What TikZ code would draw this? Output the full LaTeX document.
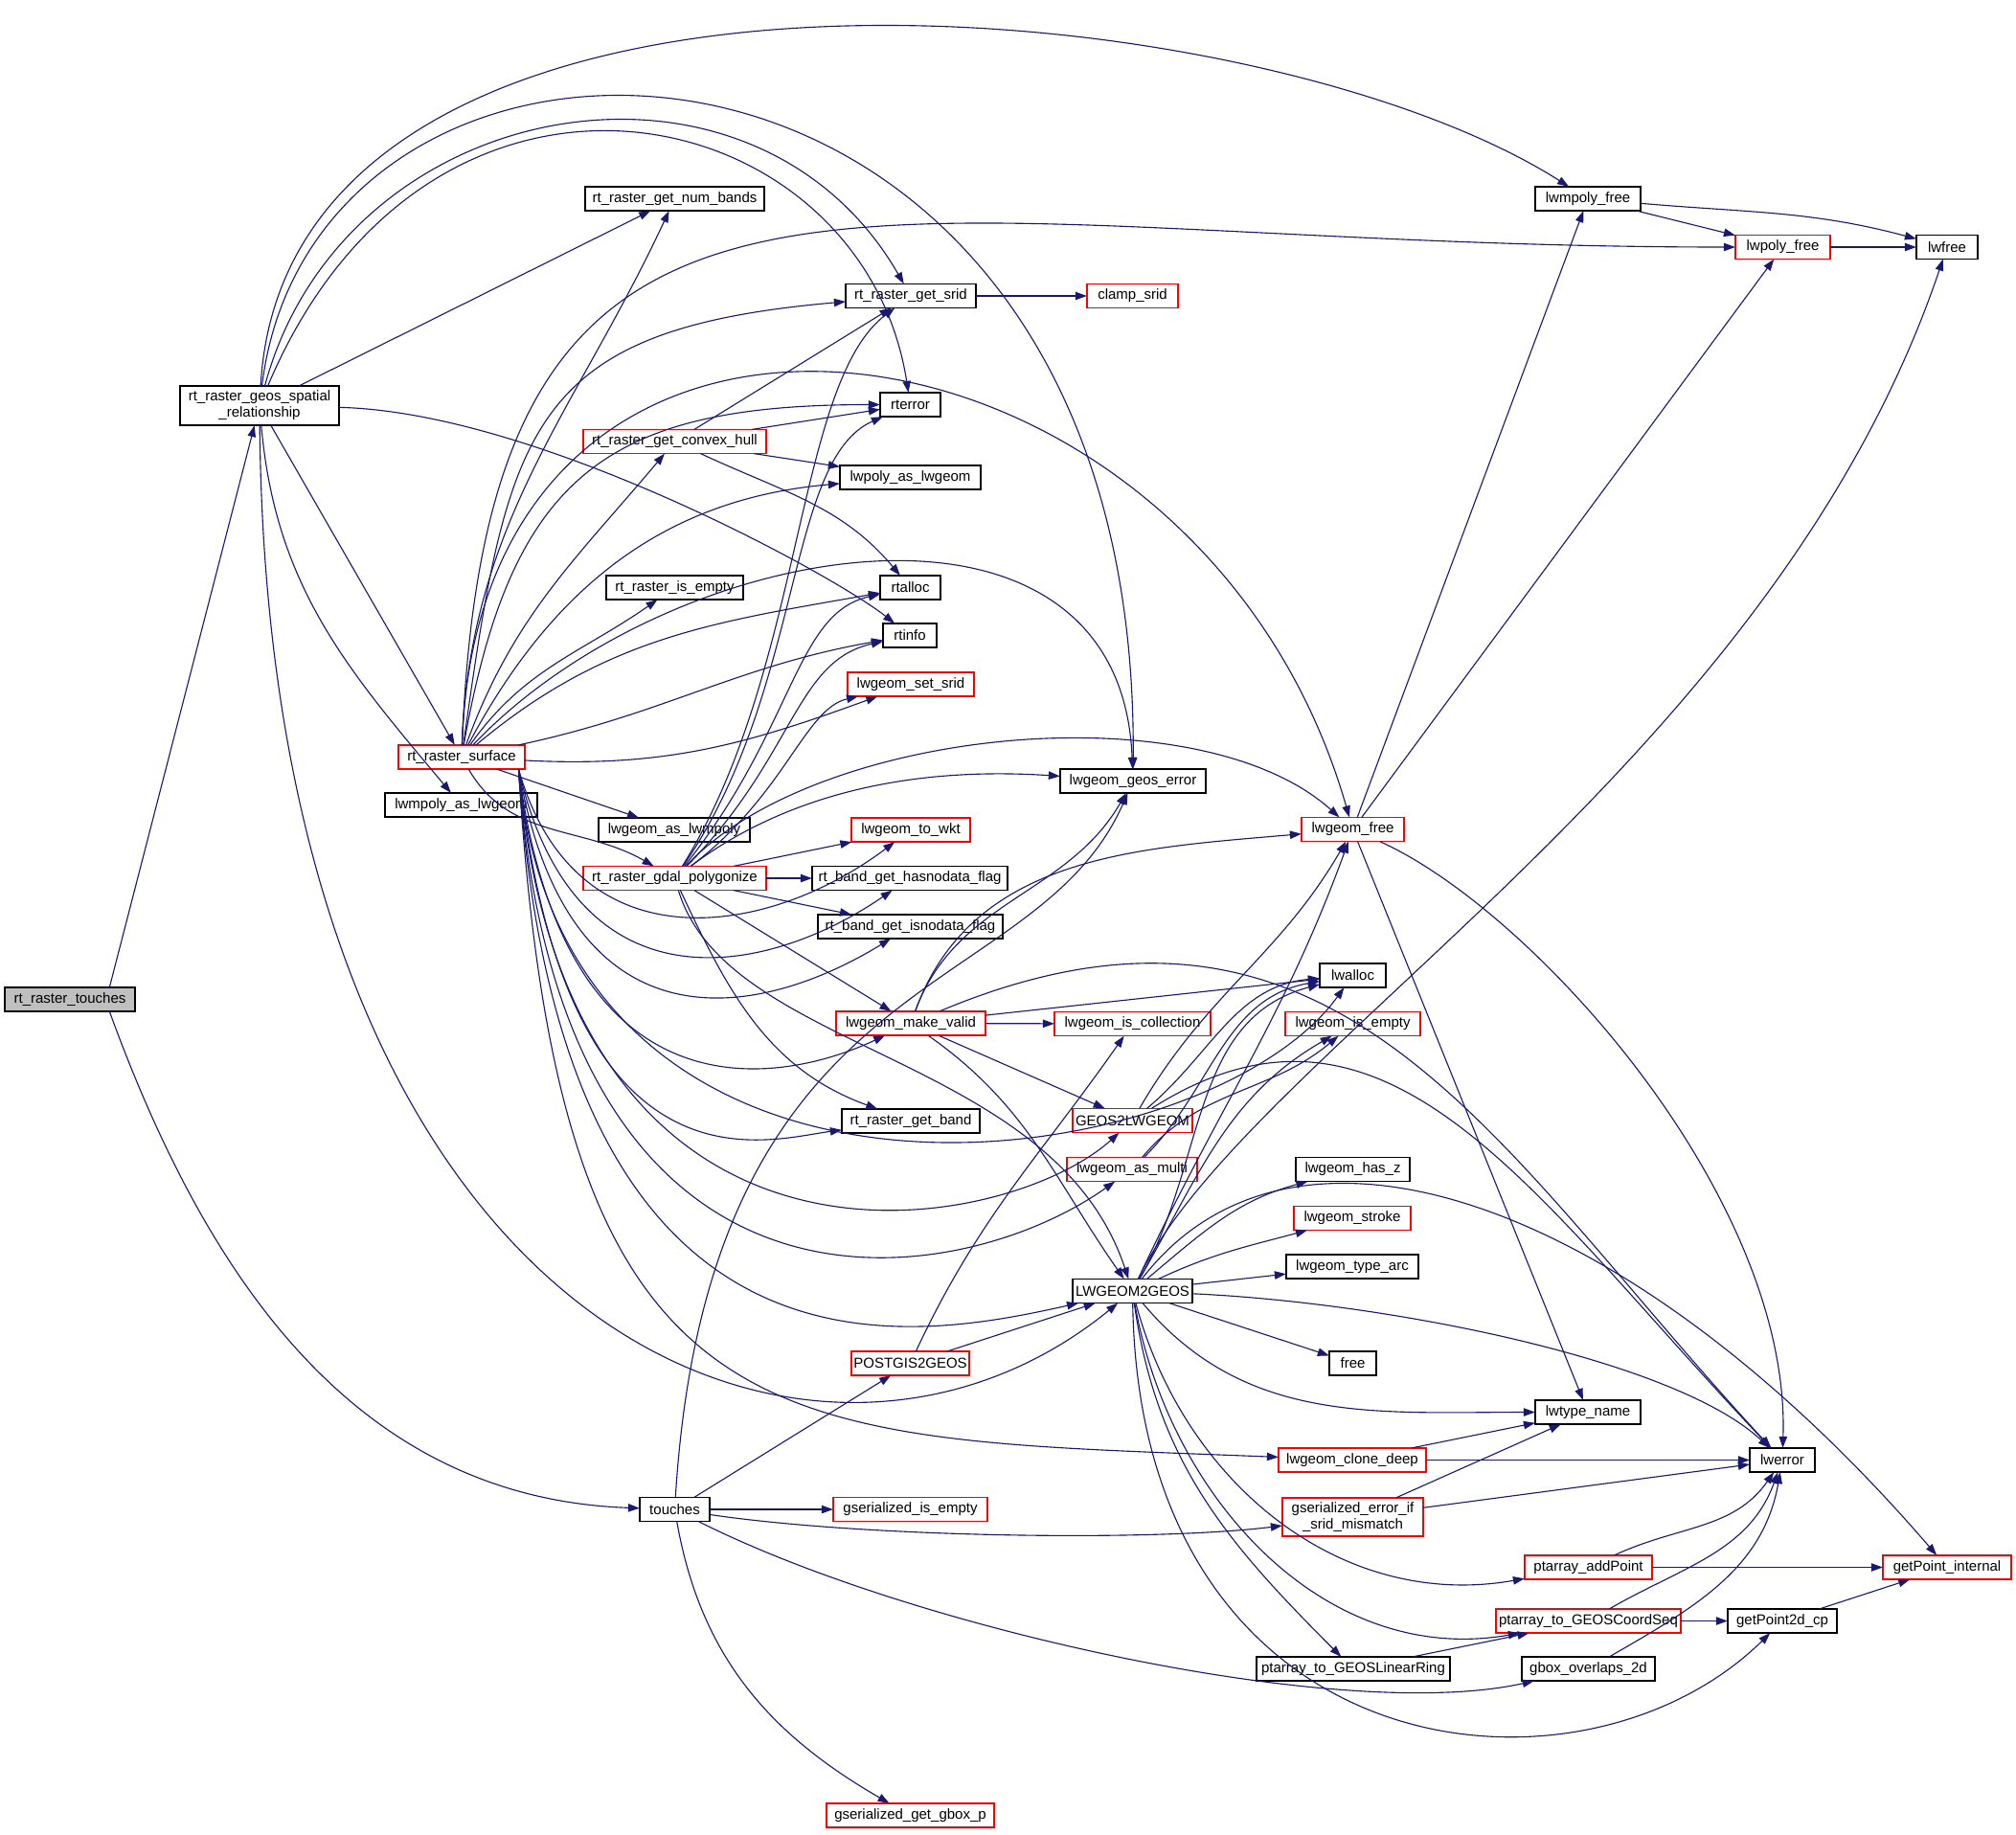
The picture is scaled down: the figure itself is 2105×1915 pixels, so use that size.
\documentclass[tikz,border=0pt]{standalone}
\usepackage{fontspec}
\setmainfont{Liberation Sans}
\usetikzlibrary{arrows.meta}
\definecolor{edgeblue}{HTML}{191970}
\definecolor{rootgray}{HTML}{BFBFBF}
\begin{document}
\begin{tikzpicture}[x=1pt,y=1pt,scale=0.25,
	call/.style={draw=edgeblue,line width=0.28pt,-{Triangle[length=3pt,width=2.1pt]}},
	redbox/.style={draw=red},
	rootbox/.style={fill=rootgray}]
	\useasboundingbox (0,0) rectangle (2105,-1915);
	\begin{scope}[every node/.style={transform shape,rectangle,draw,line width=0.28pt,minimum height=25pt,inner xsep=1.5pt,inner ysep=2pt,align=center,font=\fontsize{15}{17}\selectfont}]
		\node[rootbox,minimum width=136] (rtt) at (73,-1043.5) {rt\_raster\_touches};
		\node[minimum width=166,minimum height=41] (gsr) at (271,-423.5) {rt\_raster\_geos\_spatial\\\_relationship};
		\node[redbox,minimum width=132] (rsf) at (482,-790.5) {rt\_raster\_surface};
		\node[minimum width=159] (mpag) at (481.5,-840.5) {lwmpoly\_as\_lwgeom};
		\node[minimum width=187] (nbands) at (704.5,-207.5) {rt\_raster\_get\_num\_bands};
		\node[redbox,minimum width=191] (chull) at (704.5,-461) {rt\_raster\_get\_convex\_hull};
		\node[minimum width=143] (isempty) at (704.5,-613.5) {rt\_raster\_is\_empty};
		\node[minimum width=158] (aslwmpoly) at (704,-866.5) {lwgeom\_as\_lwmpoly};
		\node[redbox,minimum width=191] (gpoly) at (704.5,-917) {rt\_raster\_gdal\_polygonize};
		\node[minimum width=73] (touches) at (704.5,-1576) {touches};
		\node[minimum width=136] (gsrid) at (951,-309) {rt\_raster\_get\_srid};
		\node[minimum width=63] (rterror) at (950.5,-422.5) {rterror};
		\node[minimum width=147] (pag) at (950.5,-498.5) {lwpoly\_as\_lwgeom};
		\node[minimum width=63] (rtalloc) at (950.5,-613.5) {rtalloc};
		\node[minimum width=56] (rtinfo) at (950,-663.5) {rtinfo};
		\node[redbox,minimum width=132] (setsrid) at (951,-714.5) {lwgeom\_set\_srid};
		\node[redbox,minimum width=124] (towkt) at (951,-866.5) {lwgeom\_to\_wkt};
		\node[minimum width=204] (hasnd) at (950,-917) {rt\_band\_get\_hasnodata\_flag};
		\node[minimum width=193] (isnd) at (950.5,-967.5) {rt\_band\_get\_isnodata\_flag};
		\node[redbox,minimum width=156] (mkvalid) at (951,-1068.5) {lwgeom\_make\_valid};
		\node[minimum width=144] (gband) at (951,-1170.5) {rt\_raster\_get\_band};
		\node[redbox,minimum width=123] (pg2g) at (950.5,-1423.5) {POSTGIS2GEOS};
		\node[redbox,minimum width=161] (gsempty) at (950.5,-1576) {gserialized\_is\_empty};
		\node[redbox,minimum width=175] (gboxp) at (950.5,-1895.5) {gserialized\_get\_gbox\_p};
		\node[redbox,minimum width=95] (clamp) at (1182.5,-309) {clamp\_srid};
		\node[minimum width=152] (gerr) at (1183,-815.5) {lwgeom\_geos\_error};
		\node[redbox,minimum width=163] (iscoll) at (1182.5,-1069) {lwgeom\_is\_collection};
		\node[redbox,minimum width=125] (g2l) at (1182.5,-1170) {GEOS2LWGEOM};
		\node[redbox,minimum width=136] (asmulti) at (1182,-1221) {lwgeom\_as\_multi};
		\node[minimum width=125] (l2g) at (1182.5,-1348) {LWGEOM2GEOS};
		\node[redbox,minimum width=107] (lgfree) at (1412.5,-866) {lwgeom\_free};
		\node[minimum width=69] (lwalloc) at (1412.5,-1018.5) {lwalloc};
		\node[redbox,minimum width=141] (lgisempty) at (1412.5,-1069) {lwgeom\_is\_empty};
		\node[minimum width=119] (hasz) at (1412.5,-1221) {lwgeom\_has\_z};
		\node[redbox,minimum width=122] (stroke) at (1412,-1272) {lwgeom\_stroke};
		\node[minimum width=138] (typearc) at (1412,-1322.5) {lwgeom\_type\_arc};
		\node[minimum width=49] (free) at (1412.5,-1423.5) {free};
		\node[redbox,minimum width=154] (clone) at (1412,-1524.5) {lwgeom\_clone\_deep};
		\node[redbox,minimum width=147,minimum height=40] (mismatch) at (1412.5,-1584) {gserialized\_error\_if\\\_srid\_mismatch};
		\node[minimum width=202] (lring) at (1413,-1742.5) {ptarray\_to\_GEOSLinearRing};
		\node[minimum width=110] (mpfree) at (1658,-207.5) {lwmpoly\_free};
		\node[minimum width=110] (typename) at (1658,-1474.5) {lwtype\_name};
		\node[redbox,minimum width=133] (addpt) at (1658.5,-1636.5) {ptarray\_addPoint};
		\node[redbox,minimum width=193] (cseq) at (1658.5,-1692.5) {ptarray\_to\_GEOSCoordSeq};
		\node[minimum width=139] (gboxov) at (1658.5,-1742.5) {gbox\_overlaps\_2d};
		\node[redbox,minimum width=99] (pfree) at (1861.5,-258) {lwpoly\_free};
		\node[minimum width=68] (lwerror) at (1861,-1524.5) {lwerror};
		\node[minimum width=114] (gp2d) at (1861,-1692.5) {getPoint2d\_cp};
		\node[minimum width=64] (lwfree) at (2033,-258) {lwfree};
		\node[redbox,minimum width=134] (gpint) at (2033,-1636.5) {getPoint\_internal};
	\end{scope}
	
	\begin{scope}[every edge/.style={call}]
		\path (rtt.17) edge (gsr);
		\path (rtt.-17) edge[out=-70,in=178] (touches);
		
		\draw[call] (gsr) .. controls (300,100) and (1300,20) .. (mpfree);
		\draw[call] (gsr) .. controls (330,60) and (1190,40) .. (gerr);
		\path (gsr) edge[out=75,in=120,looseness=1.2] (gsrid);
		\draw[call] (gsr) .. controls (450,0) and (900,-100) .. (rterror);
		\path (gsr) edge (nbands);
		\path (gsr) edge (rsf);
		\path (gsr) edge[out=-85,in=130] (mpag);
		\draw[call] (gsr) .. controls (560,-430) and (870,-600) .. (rtinfo);
		\draw[call] (gsr) .. controls (280,-1400) and (850,-1620) .. (l2g);
		
		\path (rsf) edge[out=88,in=-115] (nbands);
		\draw[call] (rsf) .. controls (510,-60) and (900,-258) .. (pfree);
		\path (rsf) edge[out=82,in=185,looseness=1.4] (gsrid);
		\path (rsf) edge[out=80,in=180,looseness=1.3] (rterror);
		\draw[call] (rsf) .. controls (500,-200) and (1250,-300) .. (lgfree);
		\path (rsf) edge[out=70,in=-130] (chull);
		\path (rsf) edge[out=62,in=185] (pag);
		\path (rsf) edge[out=55,in=-145] (isempty);
		\path (rsf) edge[out=40,in=190] (rtalloc);
		\draw[call] (rsf) .. controls (700,-560) and (1170,-480) .. (gerr);
		\path (rsf) edge[out=12,in=190] (rtinfo);
		\path (rsf) edge[out=-3,in=200] (setsrid);
		\path (rsf) edge (aslwmpoly);
		\path (rsf) edge[out=-60,in=150] (gpoly);
		\draw[call] (rsf.-12) .. controls (600,-1010) and (800,-980) .. (towkt);
		\draw[call] (rsf.-12) .. controls (600,-1060) and (800,-1020) .. (hasnd);
		\draw[call] (rsf.-12) .. controls (595,-1110) and (800,-1060) .. (isnd);
		\draw[call] (rsf.-12) .. controls (590,-1180) and (820,-1130) .. (mkvalid);
		\draw[call] (rsf.-12) .. controls (590,-1260) and (800,-1190) .. (gband);
		\draw[call] (rsf.-12) .. controls (590,-1330) and (1260,-1230) .. (lwalloc);
		\draw[call] (rsf.-12) .. controls (590,-1380) and (1050,-1290) .. (g2l);
		\draw[call] (rsf.-12) .. controls (585,-1420) and (1000,-1350) .. (asmulti);
		\draw[call] (rsf.-12) .. controls (585,-1470) and (950,-1400) .. (l2g);
		\draw[call] (rsf.-12) .. controls (585,-1520) and (800,-1500) .. (clone);
		
		\path (gpoly) edge (towkt);
		\path (gpoly) edge (hasnd);
		\path (gpoly) edge (isnd);
		\path (gpoly) edge (mkvalid);
		\path (gpoly) edge[out=-65,in=160] (gband);
		\draw[call] (gpoly) .. controls (760,-1100) and (1100,-1100) .. (l2g);
		\draw[call] (gpoly) .. controls (840,-700) and (830,-400) .. (gsrid);
		\draw[call] (gpoly) .. controls (840,-720) and (820,-480) .. (rterror);
		\draw[call] (gpoly) .. controls (830,-760) and (830,-640) .. (rtalloc);
		\draw[call] (gpoly) .. controls (830,-790) and (830,-690) .. (rtinfo);
		\draw[call] (gpoly) .. controls (820,-830) and (840,-740) .. (setsrid);
		\draw[call] (gpoly) .. controls (820,-830) and (950,-800) .. (gerr);
		\draw[call] (gpoly) .. controls (850,-760) and (1250,-720) .. (lgfree);
		
		\path (chull) edge (gsrid);
		\path (chull) edge (rterror);
		\path (chull) edge (pag);
		\path (chull) edge[out=-25,in=130] (rtalloc);
		\path (gsrid) edge (clamp);
		
		\path (mkvalid) edge (iscoll);
		\path (mkvalid) edge (g2l);
		\path (mkvalid) edge[out=-35,in=125] (l2g);
		\path (mkvalid) edge (lwalloc);
		\path (mkvalid) edge[out=70,in=-120] (gerr);
		\path (mkvalid) edge[out=70,in=185] (lgfree);
		\draw[call] (mkvalid) .. controls (1400,-880) and (1560,-1200) .. (lwerror);
		
		\path (g2l) edge[out=60,in=-120] (lgfree);
		\path (g2l) edge[out=40,in=185] (lwalloc);
		\draw[call] (g2l) .. controls (1450,-1000) and (1600,-1250) .. (lwerror);
		\path (asmulti) edge[out=45,in=190] (lwalloc);
		\path (asmulti) edge[out=50,in=-140] (lgisempty);
		
		\path (l2g) edge[out=65,in=-110] (lgfree);
		\path (l2g) edge[out=60,in=195] (lwalloc);
		\path (l2g) edge[out=60,in=-150] (lgisempty);
		\draw[call] (l2g) .. controls (1300,-1100) and (1850,-800) .. (lwfree);
		\draw[call] (l2g) .. controls (1350,-1130) and (1700,-1250) .. (gpint);
		\path (l2g) edge[out=40,in=195] (hasz);
		\path (l2g) edge[out=25,in=195] (stroke);
		\path (l2g) edge (typearc);
		\draw[call] (l2g) .. controls (1450,-1360) and (1750,-1420) .. (lwerror);
		\path (l2g) edge (free);
		\path (l2g) edge[out=-50,in=180] (typename);
		\path (l2g) edge[out=-75,in=190] (addpt);
		\path (l2g) edge[out=-80,in=190] (cseq);
		\path (l2g) edge[out=-82,in=135] (lring);
		\draw[call] (l2g) .. controls (1190,-1850) and (1650,-1900) .. (gp2d);
		
		\path (lgfree) edge (mpfree);
		\path (lgfree) edge (pfree);
		\path (lgfree) edge (typename);
		\draw[call] (lgfree) .. controls (1600,-950) and (1870,-1250) .. (lwerror);
		\path (mpfree) edge (pfree);
		\path (mpfree) edge[out=-5,in=165] (lwfree);
		\path (pfree) edge (lwfree);
		
		\path (touches) edge (pg2g);
		\path (touches) edge (gsempty);
		\draw[call] (touches) .. controls (900,-1605) and (1200,-1610) .. (mismatch);
		\draw[call] (touches) .. controls (950,-1700) and (1400,-1800) .. (gboxov);
		\path (touches) edge[out=-80,in=150] (gboxp);
		\draw[call] (touches) .. controls (740,-1000) and (1080,-1050) .. (gerr);
		\path (pg2g) edge (l2g);
		\path (pg2g) edge[out=65,in=-125] (iscoll);
		
		\path (mismatch) edge (typename);
		\path (mismatch) edge (lwerror);
		\path (clone) edge (typename);
		\path (clone) edge (lwerror);
		\path (addpt) edge[out=25,in=-125] (lwerror);
		\path (addpt) edge (gpint);
		\path (cseq) edge[out=30,in=-110] (lwerror);
		\path (cseq) edge (gp2d);
		\path (gp2d) edge (gpint);
		\path (gboxov) edge[out=30,in=-100] (lwerror);
		\path (lring) edge (cseq);
	\end{scope}
\end{tikzpicture}
\end{document}
